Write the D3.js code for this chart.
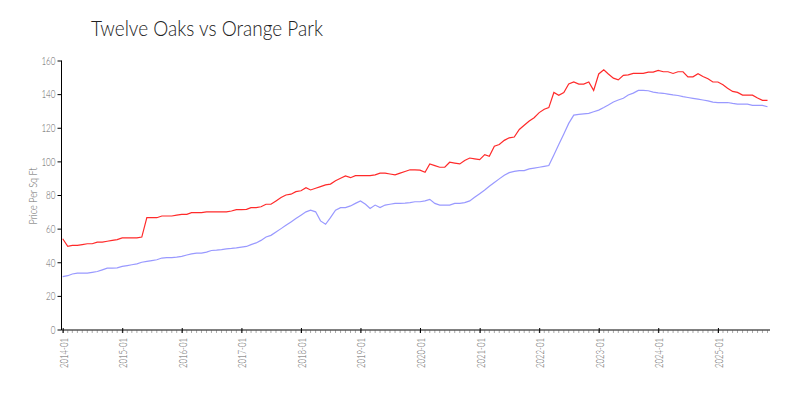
<!DOCTYPE html>
<html><head><meta charset="utf-8">
<script src="https://cdn.jsdelivr.net/npm/d3@7"></script>
<style>
body{margin:0;background:#fff;}
svg{display:block;font-family:Lato, "Open Sans", sans-serif;}
</style></head>
<body><svg id="c" width="800" height="400"></svg>
<script>
const title = "Twelve Oaks vs Orange Park";
const yLabel = "Price Per Sq Ft";
const startMonth = "2014-01";
const monthCount = 143;
const redSeries = [
54,49.5,50,50,50.5,51,51,52,52,52.5,53,53.5,
54.5,54.5,54.5,54.5,55,66.5,66.5,66.5,67.5,67.5,67.5,68,
68.5,68.5,69.5,69.5,69.5,70,70,70,70,70,70.5,71.3,
71.3,71.5,72.5,72.5,73,74.5,74.5,76.5,78.5,80,80.5,82,
82.5,84.3,83,84,85,86,86.5,88.5,90,91.3,90.3,91.5,
91.5,91.5,91.5,92,93,93,92.5,92,93,94,95,95,
94.8,93.5,98.5,97.5,96.5,96.5,99.5,99,98.5,100.5,102,101.5,
101,104,103,109,110,112.5,114,114.5,119,121.5,124,126,
129,131,132,141,139.3,141,146,147.2,146,146,147.2,142.2,
152,154.5,152,149.5,148.5,151.2,151.5,152.3,152.3,152.3,153.1,153.1,
154.1,153.3,153.3,152.3,153.3,153.3,150.3,150.3,152.1,150.5,149.1,147.2,
147.2,145.6,143.5,141.6,141,139.4,139.4,139.4,137.7,136.3,136.3];
const blueSeries = [
31.5,32,33,33.5,33.5,33.5,34,34.5,35.5,36.5,36.5,36.7,
37.5,38,38.5,39,40,40.5,41,41.5,42.5,42.7,42.7,43,
43.5,44.3,45,45.4,45.4,46,47,47.2,47.5,48,48.2,48.5,
49,49.4,50.5,51.5,53,55,56,58,60,62,64,66,
68,70,71,70,64.6,62.6,66.5,71,72.5,72.5,73.5,75,
76.5,74.5,72,74,72.5,74,74.5,75,75,75.2,75.5,76,
76,76.5,77.4,75,74,74,74,75,75,75.5,76.5,78.6,
80.8,83,85.2,87.4,89.6,91.8,93.3,94,94.5,94.5,95.5,96,
96.5,97,97.5,103.8,110,116.3,122.6,127.5,128,128.3,128.6,129.5,
130.5,132,133.5,135.3,136.5,137.5,139.5,140.6,142.2,142.2,142,141.2,
140.8,140.5,140,139.5,139.2,138.5,138,137.5,137,136.5,136,135.2,
135,135,135,134.5,134.1,134.1,134,133.3,133.3,133.3,132.5];
const yTicks = [0,20,40,60,80,100,120,140,160];

const parse = d3.timeParse("%Y-%m");
const t0 = parse(startMonth);
const months = d3.range(monthCount).map(i => d3.timeMonth.offset(t0, i));

const svg = d3.select("#c");
const x = d3.scaleTime().domain([months[0], months[months.length-1]]).range([62.7, 767.5]);
const y = d3.scaleLinear().domain([0,160]).range([329.5, 60.5]);

// title
svg.append("text").attr("x", 91).attr("y", 36).attr("font-size", 21).attr("font-weight", 300)
  .attr("fill", "#222").attr("textLength", 232).attr("lengthAdjust", "spacingAndGlyphs").text(title);

// y axis
const yAxis = svg.append("g").attr("transform", "translate(61.5,0)")
  .call(d3.axisLeft(y).tickValues(yTicks).tickSize(4).tickPadding(2));
yAxis.select(".domain").attr("stroke", "#000").attr("d", `M0,${y(160)}V330`);
yAxis.selectAll(".tick line").attr("stroke", "#000");
yAxis.selectAll(".tick text").attr("fill", "#666").attr("font-size", 12).attr("font-weight", 300)
  .attr("font-family", "Lato, sans-serif")
  .attr("textLength", d => String(d).length * 4.7).attr("lengthAdjust", "spacingAndGlyphs");

svg.append("text").attr("transform", "translate(37,196) rotate(-90)").attr("text-anchor", "middle")
  .attr("font-size", 11).attr("font-weight", 300).attr("fill", "#666")
  .attr("textLength", 57).attr("lengthAdjust", "spacingAndGlyphs").text(yLabel);

// x axis minor ticks
const xg = svg.append("g").attr("transform", "translate(0,330)");
xg.selectAll("line.minor").data(d3.timeMonth.range(months[0], d3.timeMonth.offset(months[months.length-1], 1)))
  .join("line").attr("class", "minor")
  .attr("x1", d => x(d)).attr("x2", d => x(d)).attr("y1", 0.5).attr("y2", 3)
  .attr("stroke", "#aaa").attr("stroke-width", 1);
xg.append("line").attr("x1", 61.5).attr("x2", 770).attr("y1", 0).attr("y2", 0).attr("stroke", "#000");
const xAxis = xg.append("g")
  .call(d3.axisBottom(x).ticks(d3.timeYear.every(1)).tickFormat(d3.timeFormat("%Y-%m")).tickSize(3).tickPadding(5));
xAxis.select(".domain").remove();
xAxis.selectAll(".tick line").attr("y1", -2).attr("stroke", "#000");
xAxis.selectAll(".tick text").attr("fill", "#666").attr("font-size", 12.5).attr("font-weight", 300)
  .attr("font-family", "Lato, sans-serif")
  .attr("text-anchor", "end").attr("dy", "0.35em")
  .attr("textLength", 30).attr("lengthAdjust", "spacingAndGlyphs")
  .attr("transform", "translate(0,3) rotate(-90)").attr("x", -5).attr("y", 0);

// lines
const line = d3.line().x((d, i) => x(months[i])).y(d => y(d));
svg.append("path").datum(blueSeries).attr("fill", "none").attr("stroke", "#9999ff").attr("stroke-width", 1.2).attr("d", line);
svg.append("path").datum(redSeries).attr("fill", "none").attr("stroke", "#ff2a2a").attr("stroke-width", 1.2).attr("d", line);
</script></body></html>
